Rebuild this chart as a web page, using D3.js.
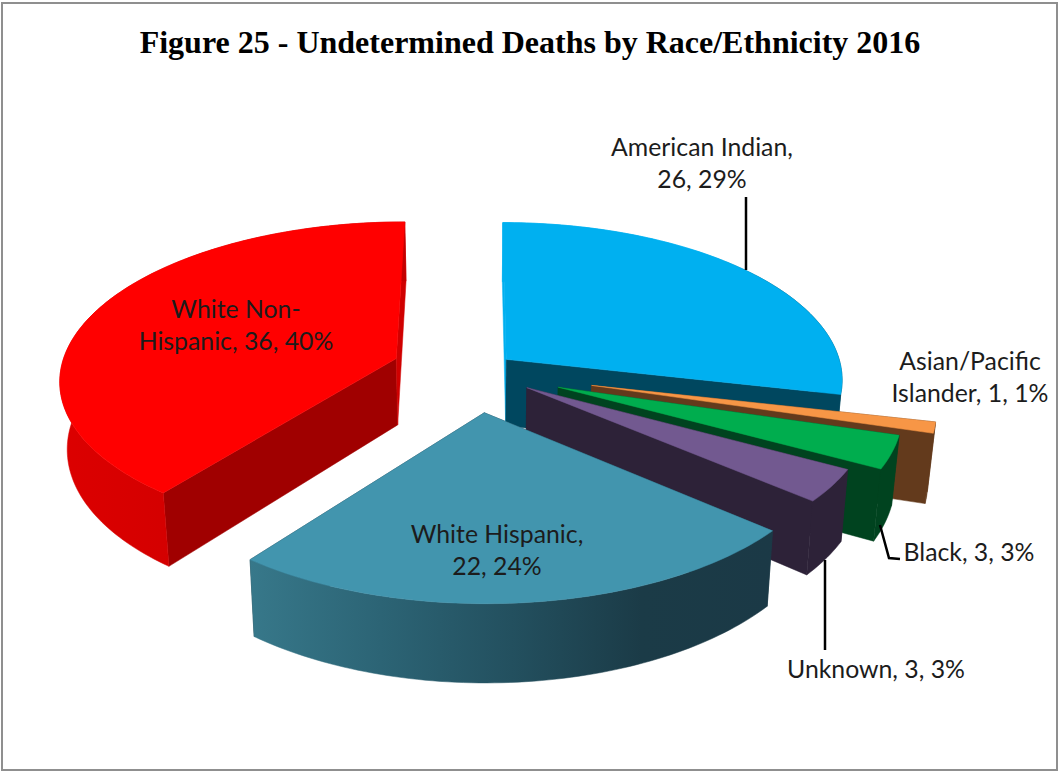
<!DOCTYPE html>
<html><head><meta charset="utf-8">
<script src="https://cdn.jsdelivr.net/npm/d3@7"></script>
<style>html,body{margin:0;padding:0;background:#fff}svg{display:block}</style>
</head><body><svg id="c" width="1060" height="772"></svg>
<script>
const titleText = "Figure 25 - Undetermined Deaths by Race/Ethnicity 2016";
const categories = ["American Indian","Asian/Pacific Islander","Black","Unknown","White Hispanic","White Non-Hispanic"];
const values = [26,1,3,3,22,36];
const explode = [0.12,0.355,0.265,0.185,0.26,0.25];
const topColors = ["#00B0F0","#F79646","#00AD4E","#725990","#4295AE","#FF0000"];
const startCutColors = ["#00B0F0","#633A1C","#00431F","#2D2238","#1C3A47","#A00000"];
const endCutColors = ["#00475F","#633A1C","#00431F","#2D2238","#1C3A47","#D00000"];
const wallStops = [
  ["#00B0F0","#00B0F0","#00B0F0","#00B0F0","#00475F","#00475F"],["#633A1C","#633A1C"],["#00431F","#00431F"],["#2D2238","#2D2238"],
  ["#37788A","#2C6475","#23505F","#1B3B47","#1B3946"],["#DC0000","#C40000"]];
const labelLines = [["American Indian,","26, 29%"],["Asian/Pacific","Islander, 1, 1%"],["Black, 3, 3%"],["Unknown, 3, 3%"],["White Hispanic,","22, 24%"],["White Non-","Hispanic, 36, 40%"]];
const labelAnchor = [[702,156],[970,370],[969,561],[876,678],[497,543],[236,318]];
const leaders = [[[880,525],[889,558],[900,559]],[[746,197],[746,270]],[[825,560],[825,650]]];

const persp=0.1228, wallH=67, wallShrink=0.982;
const xs=d3.scaleLinear().domain([0,1]).range([475,811]);
const ys=d3.scaleLinear().domain([0,1]).range([371,214.7]);
const svg=d3.select("#c");
const defs=svg.append("defs");
svg.append("rect").attr("x",2).attr("y",3).attr("width",1055).attr("height",767).attr("fill","#fff").attr("stroke","#8f8f8f").attr("stroke-width",2);

function project(X,Y){const s=1/(1+persp*Y);return {x:xs(X*s),y:ys(Y*s),s};}
function lower(p){return {x:xs(0)+(p.x-xs(0))*wallShrink,y:p.y+wallH*p.s};}
const line=d3.line().x(d=>d.x).y(d=>d.y);

const arcs=d3.pie().sort(null).value(d=>d)(values);
arcs.forEach((a,i)=>{
  const bis=(a.startAngle+a.endAngle)/2, e=explode[i];
  const ox=e*Math.sin(bis), oy=e*Math.cos(bis);
  const pt=(t,r)=>project(ox+r*Math.sin(t),oy+r*Math.cos(t));
  const n=Math.max(6,Math.ceil((a.endAngle-a.startAngle)/0.02));
  const outer=d3.range(n+1).map(k=>pt(a.startAngle+(a.endAngle-a.startAngle)*k/n,1));
  const apex=pt(0,0);
  const g=svg.append("g").attr("class","slice").attr("data-name",categories[i]);
  const face=(t,c)=>{const o=pt(t,1);g.append("path").attr("d",line([apex,o,lower(o),lower(apex)])+"Z").attr("fill",c).attr("stroke",c).attr("stroke-width",0.5);};
  face(a.startAngle,startCutColors[i]);
  face(a.endAngle,endCutColors[i]);
  const gid="wall"+i;
  const gr=defs.append("linearGradient").attr("id",gid);
  wallStops[i].forEach((c,k,arr)=>gr.append("stop").attr("offset",k/(arr.length-1)).attr("stop-color",c));
  g.append("path").attr("d",line(outer.concat(outer.map(lower).reverse()))+"Z").attr("fill",`url(#${gid})`).attr("stroke",`url(#${gid})`).attr("stroke-width",0.5);
  g.append("path").attr("d",line([apex].concat(outer))+"Z").attr("fill",topColors[i]).attr("stroke",topColors[i]).attr("stroke-width",0.5);
});

svg.append("g").selectAll("path").data(leaders).join("path")
  .attr("d",d3.line()).attr("fill","none").attr("stroke","#000").attr("stroke-width",2.5);

svg.append("text").attr("x",530).attr("y",53).attr("text-anchor","middle")
  .attr("font-family","'Liberation Serif',serif").attr("font-weight","bold").attr("font-size",32)
  .attr("fill","#000").text(titleText);

labelLines.forEach((ls,i)=>{
  const t=svg.append("text").attr("text-anchor","middle").attr("font-family","Lato,sans-serif")
    .attr("font-size",24.8).attr("fill","#1c1c1c");
  ls.forEach((s,k)=>t.append("tspan").attr("x",labelAnchor[i][0]).attr("y",labelAnchor[i][1]+k*32).text(s));
});
</script></body></html>
